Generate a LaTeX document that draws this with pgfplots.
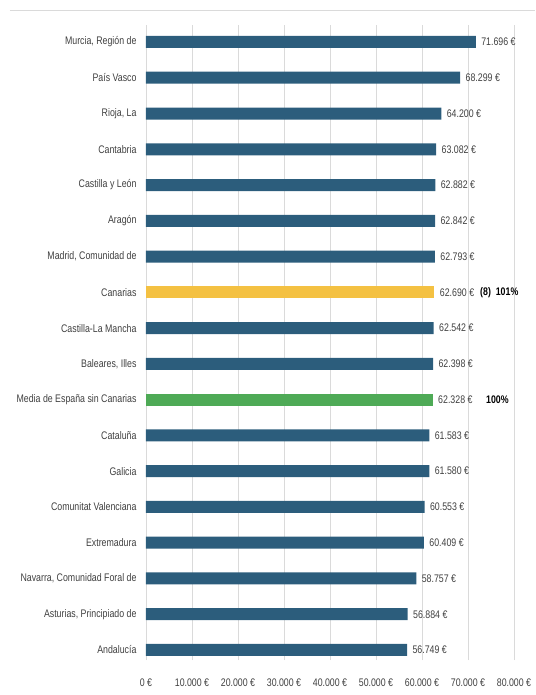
\documentclass[border=0pt]{standalone}
\usepackage{fontspec}
\setmainfont{Liberation Sans}[FakeStretch=0.8]
\usepackage{pgfplots}
\pgfplotsset{compat=1.18}
\definecolor{barblue}{HTML}{2C5D7C}
\definecolor{baryellow}{HTML}{F4C142}
\definecolor{bargreen}{HTML}{4EAA56}
\definecolor{txtgray}{HTML}{404040}
\definecolor{gridgray}{HTML}{DADADA}
\begin{document}
\begin{tikzpicture}
\useasboundingbox (-146pt,-35pt) rectangle (389pt,660pt);
\draw[gridgray, line width=1pt] (-136pt,649pt) -- (389pt,649pt);
\begin{axis}[
  at={(0,0)}, anchor=south west,
  scale only axis, width=368pt, height=635pt,
  xmin=0, xmax=80000, ymin=-0.28, ymax=17.475,
  axis line style={draw=none},
  major tick length=0pt,
  /pgf/number format/assume math mode=true,
  xmajorgrids, grid style={gridgray, line width=0.6pt},
  xtick={0,10000,...,80000},
  xticklabels={0 €,10.000 €,20.000 €,30.000 €,40.000 €,50.000 €,60.000 €,70.000 €,80.000 €},
  xticklabel style={inner sep=1pt, yshift=-18pt, font=\fontsize{11}{13}\selectfont, text=txtgray},
  ytick={0,...,17},
  yticklabels={Andalucía,{Asturias, Principiado de},{Navarra, Comunidad Foral de},Extremadura,Comunitat Valenciana,Galicia,Cataluña,Media de España sin Canarias,{Baleares, Illes},Castilla-La Mancha,Canarias,{Madrid, Comunidad de},Aragón,Castilla y León,Cantabria,{Rioja, La},País Vasco,{Murcia, Región de}},
  yticklabel style={xshift=-6pt, font=\fontsize{11}{13}\selectfont, text=txtgray},
  xbar, bar width=12pt, bar shift=0pt,
  nodes near coords={\pgfmathprintnumber[fixed,precision=0,1000 sep={.},assume math mode=true]{\pgfplotspointmeta}~€},
  nodes near coords style={anchor=west, xshift=2pt, font=\fontsize{11}{13}\selectfont, text=txtgray},
  clip=false,
]
\addplot[fill=barblue, draw=none] coordinates {
  (56749,0) (56884,1) (58757,2) (60409,3) (60553,4) (61580,5) (61583,6)
  (62398,8) (62542,9) (62793,11) (62842,12) (62882,13) (63082,14) (64200,15) (68299,16) (71696,17)
};
\addplot[fill=bargreen, draw=none] coordinates {(62328,7)};
\addplot[fill=baryellow, draw=none] coordinates {(62690,10)};
\node[anchor=west, inner sep=0pt, font=\fontsize{11}{13}\selectfont\bfseries] at (axis cs:72609,10) {(8)\ \ 101\%};
\node[anchor=west, inner sep=0pt, font=\fontsize{11}{13}\selectfont\bfseries] at (axis cs:73913,7) {100\%};
\end{axis}
\end{tikzpicture}
\end{document}
